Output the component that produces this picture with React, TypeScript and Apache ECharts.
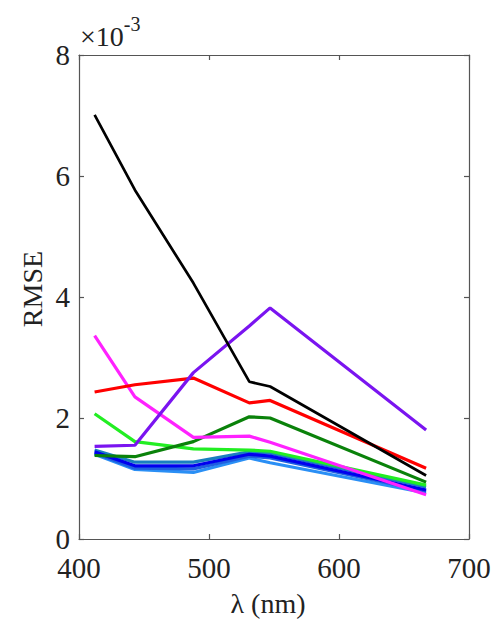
import React, { useEffect, useRef } from "react";
import * as echarts from "echarts";

const wavelengths = [412, 443, 488, 531, 547, 667];
const xTicks = [400, 500, 600, 700];
const yTicks = [0, 2, 4, 6, 8];

const blackVals = [7.01, 5.77, 4.23, 2.6, 2.52, 1.05];
const redVals = [2.43, 2.55, 2.66, 2.25, 2.29, 1.17];
const darkGreenVals = [1.38, 1.36, 1.61, 2.02, 2.0, 0.94];
const limeVals = [2.07, 1.61, 1.49, 1.47, 1.45, 0.89];
const magentaVals = [3.36, 2.35, 1.68, 1.7, 1.6, 0.73];
const purpleVals = [1.53, 1.55, 2.75, 3.52, 3.82, 1.8];
const steelBlueVals = [1.47, 1.27, 1.27, 1.44, 1.42, 0.86];
const blueVals = [1.44, 1.21, 1.21, 1.4, 1.37, 0.81];
const mediumBlueVals = [1.42, 1.17, 1.16, 1.37, 1.34, 0.79];
const lightBlueVals = [1.4, 1.15, 1.1, 1.34, 1.26, 0.76];

const seriesDefs = [
  { name: "lightBlue", values: lightBlueVals, color: "#2a8ff5", width: 3.2 },
  { name: "mediumBlue", values: mediumBlueVals, color: "#1f5fe0", width: 3.2 },
  { name: "steelBlue", values: steelBlueVals, color: "#1a7fc0", width: 3.2 },
  { name: "blue", values: blueVals, color: "#0000ee", width: 3.2 },
  { name: "lime", values: limeVals, color: "#22ee22", width: 3.2 },
  { name: "darkGreen", values: darkGreenVals, color: "#0a820a", width: 3.2 },
  { name: "magenta", values: magentaVals, color: "#ff22ff", width: 3.2 },
  { name: "red", values: redVals, color: "#ff0000", width: 3.2 },
  { name: "purple", values: purpleVals, color: "#7a14f0", width: 3.2 },
  { name: "black", values: blackVals, color: "#000000", width: 2.7 },
];

const FONT = "Liberation Serif";
const AXIS_COLOR = "#555555";

export default function App() {
  const ref = useRef<HTMLDivElement>(null);
  useEffect(() => {
    if (!ref.current) return;
    const chart = echarts.init(ref.current, null, { renderer: "svg" });
    const axisCommon = {
      axisLine: { show: true, onZero: false, lineStyle: { color: AXIS_COLOR, width: 1.2 } },
      axisTick: { show: true, inside: true, length: 5, lineStyle: { color: AXIS_COLOR, width: 1.2 } },
      splitLine: { show: false },
    };
    chart.setOption({
      animation: false,
      backgroundColor: "#ffffff",
      grid: { left: 79, top: 55, right: 31, bottom: 89, containLabel: false },
      xAxis: [
        {
          type: "value",
          min: xTicks[0],
          max: xTicks[xTicks.length - 1],
          interval: 100,
          position: "bottom",
          ...axisCommon,
          axisLabel: { show: true, margin: 14, fontFamily: FONT, fontSize: 29, color: "#222" },
        },
        {
          type: "value",
          min: xTicks[0],
          max: xTicks[xTicks.length - 1],
          interval: 100,
          position: "top",
          ...axisCommon,
          axisLabel: { show: false },
        },
      ],
      yAxis: [
        {
          type: "value",
          min: yTicks[0],
          max: yTicks[yTicks.length - 1],
          interval: 2,
          position: "left",
          ...axisCommon,
          axisLabel: { show: true, margin: 9, fontFamily: FONT, fontSize: 29, color: "#222" },
        },
        {
          type: "value",
          min: yTicks[0],
          max: yTicks[yTicks.length - 1],
          interval: 2,
          position: "right",
          ...axisCommon,
          axisLabel: { show: false },
        },
      ],
      series: seriesDefs.map((s) => ({
        name: s.name,
        type: "line",
        xAxisIndex: 0,
        yAxisIndex: 0,
        data: wavelengths.map((w, i) => [w, s.values[i]]),
        showSymbol: false,
        symbol: "none",
        lineStyle: { color: s.color, width: s.width },
        itemStyle: { color: s.color },
      })),
      graphic: [
        {
          type: "text",
          left: 80,
          top: 14,
          style: {
            text: "{a|×10}{b|-3}",
            rich: {
              a: { fontFamily: FONT, fontSize: 28, fill: "#222", verticalAlign: "bottom", lineHeight: 36 },
              b: { fontFamily: FONT, fontSize: 20, fill: "#222", verticalAlign: "top", lineHeight: 36 },
            },
          },
        },
        {
          type: "text",
          x: 268,
          y: 603,
          style: {
            text: "λ (nm)",
            fontFamily: FONT,
            fontSize: 28,
            fill: "#222",
            align: "center",
            verticalAlign: "middle",
          },
        },
        {
          type: "text",
          x: 32,
          y: 289,
          rotation: Math.PI / 2,
          style: {
            text: "RMSE",
            fontFamily: FONT,
            fontSize: 28,
            fill: "#222",
            align: "center",
            verticalAlign: "middle",
          },
        },
      ],
    });
    return () => chart.dispose();
  }, []);
  return (
    <div
      ref={ref}
      style={{ position: "fixed", left: 0, top: 0, width: 500, height: 628, background: "#fff" }}
    />
  );
}
